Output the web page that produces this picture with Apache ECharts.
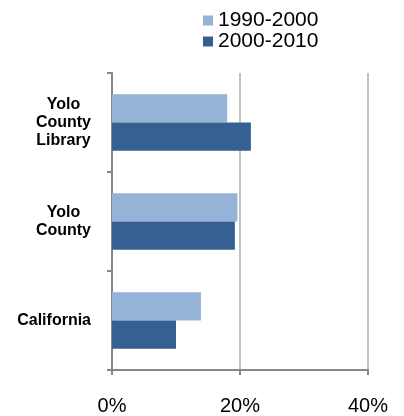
<!DOCTYPE html>
<html>
<head>
<meta charset="utf-8">
<script src="https://cdn.jsdelivr.net/npm/echarts@6/dist/echarts.min.js"></script>
<style>
  html, body { margin: 0; padding: 0; background: #fff; }
  #main { width: 404px; height: 416px; }
</style>
</head>
<body>
<div id="main"></div>
<script>
// categories, top to bottom
var categories = ['Yolo\nCounty\nLibrary', 'Yolo\nCounty', 'California'];
var seriesNames = ['1990-2000', '2000-2010'];
// growth in %
var growth1990 = [18.0, 19.6, 13.9];
var growth2000 = [21.7, 19.2, 10.0];
var xTicks = [0, 20, 40];

var chart = echarts.init(document.getElementById('main'));

var option = {
    animation: false,
    legend: {
        orient: 'vertical',
        left: 203,
        top: 10,
        padding: 0,
        itemWidth: 10,
        itemHeight: 10,
        itemGap: 0,
        icon: 'rect',
        data: seriesNames,
        textStyle: {
            fontFamily: 'Liberation Sans',
            fontSize: 21,
            lineHeight: 21,
            color: '#000'
        }
    },
    grid: {
        left: 112,
        right: 36,
        top: 73,
        bottom: 44
    },
    xAxis: {
        type: 'value',
        min: xTicks[0],
        max: xTicks[xTicks.length - 1],
        interval: 20,
        axisLine: { show: true, lineStyle: { color: '#868686', width: 2 } },
        axisTick: { show: true, length: 5, lineStyle: { color: '#868686', width: 2 } },
        splitLine: { show: true, lineStyle: { color: '#c0c0c0', width: 2 } },
        axisLabel: {
            margin: 26,
            formatter: '{value}%',
            fontFamily: 'Liberation Sans',
            fontSize: 20,
            color: '#000'
        }
    },
    yAxis: {
        type: 'category',
        inverse: true,
        data: categories,
        axisLine: { show: true, lineStyle: { color: '#868686', width: 2 } },
        axisTick: { show: true, length: 5, lineStyle: { color: '#868686', width: 2 } },
        axisLabel: {
            margin: 21,
            fontFamily: 'Liberation Sans',
            fontWeight: 'bold',
            fontSize: 16,
            lineHeight: 18,
            color: '#000',
            formatter: function (value) {
                return value.split('\n').map(function (s) { return '{c|' + s + '}'; }).join('\n');
            },
            rich: {
                c: {
                    align: 'center',
                    fontFamily: 'Liberation Sans',
                    fontWeight: 'bold',
                    fontSize: 16,
                    lineHeight: 18,
                    color: '#000'
                }
            }
        }
    },
    series: [
        {
            name: seriesNames[0],
            type: 'bar',
            data: growth1990,
            barGap: '0%',
            barCategoryGap: '43%',
            itemStyle: { color: '#95b3d7' }
        },
        {
            name: seriesNames[1],
            type: 'bar',
            data: growth2000,
            barGap: '0%',
            barCategoryGap: '43%',
            itemStyle: { color: '#366092' }
        }
    ]
};
chart.setOption(option);
</script>
</body>
</html>
